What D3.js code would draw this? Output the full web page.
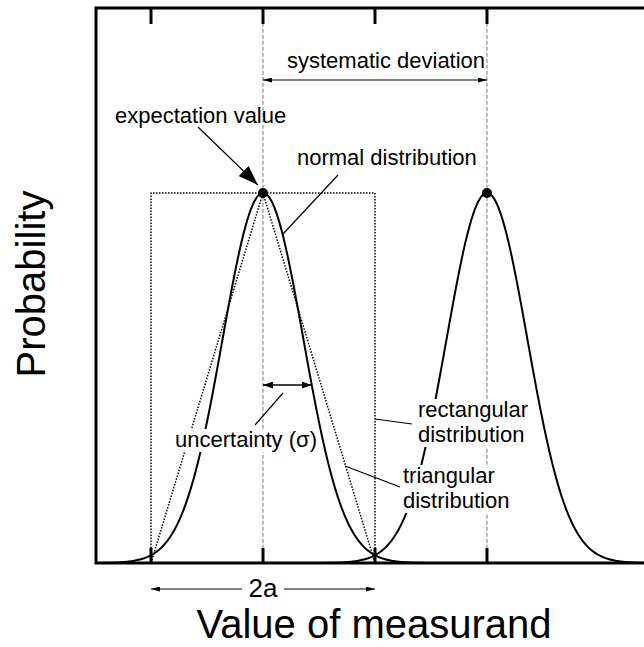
<!DOCTYPE html>
<html><head><meta charset="utf-8">
<script src="https://cdn.jsdelivr.net/npm/d3@7"></script>
<style>html,body{margin:0;padding:0;background:#fff}svg{display:block}text{font-family:"Liberation Sans",Arial,sans-serif;fill:#000}</style>
</head><body>
<script>
// ---- data (in units of the half-width a; peak probability = 1) ----
const tickValues = [-1, 0, 1, 2];
const means = [0, 2];          // expectation value, shifted value
const sigma = 0.36;            // standard uncertainty
const halfWidth = 1;           // a
const peak = 1;
const xDomain = [-1.491, 3.402];
const yDomain = [0, 1.5];
const labels = {
  x: "Value of measurand", y: "Probability",
  sys: "systematic deviation", exp: "expectation value", normal: "normal distribution",
  unc: "uncertainty (σ)", rect: ["rectangular", "distribution"], tri: ["triangular", "distribution"], a2: "2a"
};

const W = 644, H = 647;
const svg = d3.select("body").append("svg").attr("width", W).attr("height", H);
const x = d3.scaleLinear().domain(xDomain).range([96, 644]);
const y = d3.scaleLinear().domain(yDomain).range([563, 8]);

const defs = svg.append("defs");
function marker(id, len, wid) {
  defs.append("marker").attr("id", id).attr("viewBox", `0 0 ${len} ${wid}`)
    .attr("refX", len).attr("refY", wid / 2).attr("markerWidth", len).attr("markerHeight", wid)
    .attr("markerUnits", "userSpaceOnUse").attr("orient", "auto-start-reverse")
    .append("path").attr("d", `M0,0L${len},${wid / 2}L0,${wid}Z`).attr("fill", "#000");
}
marker("small", 9, 5);
marker("mid", 10, 7);
marker("big", 20, 14);

const pdf = (m, v) => peak * Math.exp(-((v - m) ** 2) / (2 * sigma * sigma));
const samples = d3.range(xDomain[0], xDomain[1] + 0.001, 0.01);
const line = d3.line().x(d => x(d[0])).y(d => y(d[1]));

// vertical dashed guides at expectation values
const g = svg.append("g");
means.forEach(m => {
  g.append("line").attr("x1", x(m)).attr("x2", x(m)).attr("y1", y(1.46)).attr("y2", y(0.04))
    .attr("stroke", "#777").attr("stroke-width", 1).attr("stroke-dasharray", "4,2");
});

// rectangular distribution
g.append("path")
  .attr("d", line([[-halfWidth, 0], [-halfWidth, peak], [halfWidth, peak], [halfWidth, 0]]))
  .attr("fill", "none").attr("stroke", "#000").attr("stroke-width", 1.5).attr("stroke-dasharray", "1.5,1.5");
// triangular distribution
g.append("path")
  .attr("d", line([[-halfWidth, 0], [0, peak], [halfWidth, 0]]))
  .attr("fill", "none").attr("stroke", "#000").attr("stroke-width", 1.5).attr("stroke-dasharray", "1.5,1.5");
// normal distributions
means.forEach(m => {
  g.append("path").attr("d", line(samples.map(v => [v, pdf(m, v)])))
    .attr("fill", "none").attr("stroke", "#000").attr("stroke-width", 2);
});

// text with white masks
function block(lines, xs, ys, size, lh, mask) {
  const grp = svg.append("g");
  const t = grp.append("text").attr("font-size", size);
  lines.forEach((l, i) => t.append("tspan").attr("x", xs).attr("y", ys + i * lh).text(l));
  if (mask) {
    const b = t.node().getBBox();
    grp.insert("rect", "text").attr("x", b.x - 2).attr("y", b.y + 2).attr("width", b.width + 4)
      .attr("height", b.height - 2).attr("fill", "#fff");
  }
  return t;
}
block(labels.rect, 418, 417, 22, 25, true);
block(labels.tri, 403, 483, 22, 25, true);
block([labels.unc], 175, 447, 22, 25, true);
block([labels.exp], 115, 123, 22, 25, false);
block([labels.normal], 297, 165, 22, 25, false);
block([labels.sys], 287, 68, 22, 25, false);

// leader lines
const leader = (x1, y1, x2, y2) => svg.append("line").attr("x1", x1).attr("y1", y1).attr("x2", x2).attr("y2", y2)
  .attr("stroke", "#000").attr("stroke-width", 1.2);
leader(338, 175, 283, 234);
leader(255, 425, 283, 393);
leader(x(halfWidth), 419, 412, 424);
leader(345, 466, 400, 487);

// expectation value arrow
svg.append("line").attr("x1", 198).attr("y1", 127).attr("x2", x(0) - 5).attr("y2", y(peak) - 8)
  .attr("stroke", "#000").attr("stroke-width", 1.2).attr("marker-end", "url(#big)");
// uncertainty arrow (sigma on the curve)
const uy = y(pdf(0, sigma * 1.21));
svg.append("line").attr("x1", x(0)).attr("x2", x(sigma * 1.21)).attr("y1", uy).attr("y2", uy)
  .attr("stroke", "#000").attr("stroke-width", 1.5).attr("marker-start", "url(#mid)").attr("marker-end", "url(#mid)");
// systematic deviation arrow
svg.append("line").attr("x1", x(means[0])).attr("x2", x(means[1])).attr("y1", 80).attr("y2", 80)
  .attr("stroke", "#000").attr("stroke-width", 1.2).attr("marker-start", "url(#small)").attr("marker-end", "url(#small)");

// peak dots
means.forEach(m => svg.append("circle").attr("cx", x(m)).attr("cy", y(peak)).attr("r", 5).attr("fill", "#000"));

// frame and ticks
const ax = svg.append("g").attr("stroke", "#000").attr("stroke-width", 3).attr("fill", "none");
ax.append("path").attr("d", `M644,${y(yDomain[1])}H${x(xDomain[0])}V${y(0)}H644`).attr("stroke-linejoin", "miter");
tickValues.forEach(t => {
  ax.append("line").attr("x1", x(t)).attr("x2", x(t)).attr("y1", y(yDomain[1])).attr("y2", y(yDomain[1]) + 16);
  ax.append("line").attr("x1", x(t)).attr("x2", x(t)).attr("y1", y(0)).attr("y2", y(0) - 15);
});

// 2a arrow
const ay = 589;
svg.append("line").attr("x1", x(-halfWidth)).attr("x2", 242).attr("y1", ay).attr("y2", ay)
  .attr("stroke", "#000").attr("stroke-width", 1.2).attr("marker-start", "url(#small)");
svg.append("line").attr("x1", 284).attr("x2", x(halfWidth)).attr("y1", ay).attr("y2", ay)
  .attr("stroke", "#000").attr("stroke-width", 1.2).attr("marker-end", "url(#small)");
svg.append("text").attr("x", x(0)).attr("y", 597).attr("text-anchor", "middle").attr("font-size", 26).text(labels.a2);

// axis titles
svg.append("text").attr("x", 374).attr("y", 638).attr("text-anchor", "middle").attr("font-size", 40).text(labels.x);
svg.append("text").attr("transform", "translate(45,284) rotate(-90)").attr("text-anchor", "middle").attr("font-size", 40).text(labels.y);
</script>
</body></html>
